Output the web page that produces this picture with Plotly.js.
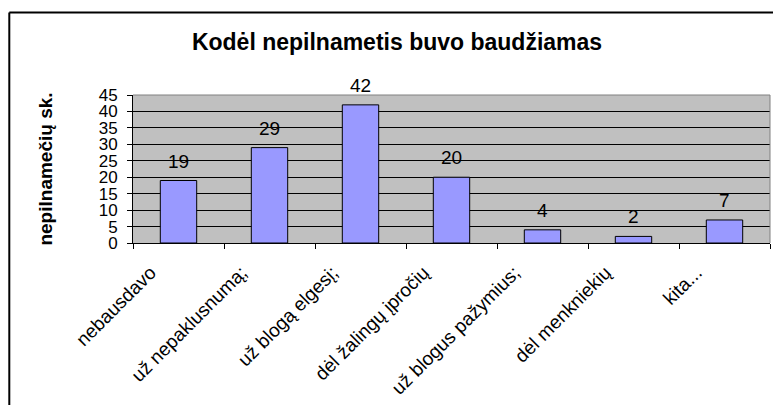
<!DOCTYPE html>
<html>
<head>
<meta charset="utf-8">
<script src="https://cdn.plot.ly/plotly-3.0.1.min.js"></script>
<style>
html,body{margin:0;padding:0;background:#fff;}
#chart{width:773px;height:405px;}
</style>
</head>
<body>
<div id="chart"></div>
<script>
const chartTitle = "Kodėl nepilnametis buvo baudžiamas";
const yTitle = "nepilnamečių sk.";
const categories = ["nebausdavo", "už nepaklusnumą;", "už blogą elgesį;", "dėl žalingų įpročių", "už blogus pažymius;", "dėl menkniekių", "kita..."];
const values = [19, 29, 42, 20, 4, 2, 7];
const yTickVals = [0, 5, 10, 15, 20, 25, 30, 35, 40, 45];

const FONT = "Liberation Sans, Arial, sans-serif";

const W = 773, H = 405;
const L = 133, R = 3, T = 95, B = 162;
const pw = W - L - R, ph = H - T - B;
const px = v => (v - L) / pw;
const py = v => (H - B - v) / ph;

const trace = {
  type: "bar",
  x: categories,
  y: values,
  marker: {color: "#9999FF", line: {color: "#000000", width: 1}},
  hoverinfo: "x+y"
};

const annotations = categories.map((c, i) => ({
  x: c, y: values[i], xref: "x", yref: "y",
  text: String(values[i]), showarrow: false,
  yanchor: "bottom", yshift: 7,
  font: {family: FONT, size: 19, color: "#000"}
}));

const layout = {
  width: W, height: H,
  margin: {l: L, r: R, t: T, b: B, pad: 0},
  paper_bgcolor: "#ffffff",
  plot_bgcolor: "#C0C0C0",
  showlegend: false,
  bargap: 0.6,
  title: {
    text: "<b>" + chartTitle + "</b>",
    font: {family: FONT, size: 23, color: "#000"},
    x: 397 / W, xanchor: "center", xref: "container",
    y: 1 - 42 / H, yanchor: "middle", yref: "container"
  },
  xaxis: {
    type: "category",
    showline: true, linecolor: "#000", linewidth: 1,
    ticks: "outside", tickson: "boundaries", ticklen: 5, tickcolor: "#000",
    tickangle: -45,
    ticklabelshift: -28, ticklabelstandoff: 10,
    tickfont: {family: FONT, size: 19, color: "#000"},
    showgrid: false, zeroline: false, fixedrange: true
  },
  yaxis: {
    range: [0, 45],
    tickvals: yTickVals,
    ticktext: yTickVals.map(String),
    showline: true, linecolor: "#000", linewidth: 1,
    ticks: "outside", ticklen: 5, tickcolor: "#000",
    ticklabelstandoff: 6,
    tickfont: {family: FONT, size: 17, color: "#000"},
    showgrid: true, gridcolor: "#000", gridwidth: 1,
    zeroline: false, fixedrange: true,
    title: {
      text: "<b>" + yTitle + "</b>",
      font: {family: FONT, size: 19, color: "#000"},
      standoff: 41
    }
  },
  annotations: annotations,
  shapes: [
    {type: "line", xref: "paper", yref: "paper", x0: 0, x1: 1, y0: 1, y1: 1,
     line: {color: "#808080", width: 1}, layer: "above"},
    {type: "line", xref: "paper", yref: "paper", x0: 1, x1: 1, y0: 0, y1: 1,
     line: {color: "#808080", width: 1}, layer: "above"},
    {type: "line", xref: "paper", yref: "paper", x0: px(9.3), x1: px(790), y0: py(12.5), y1: py(12.5),
     line: {color: "#000", width: 2}},
    {type: "line", xref: "paper", yref: "paper", x0: px(9.3), x1: px(9.3), y0: py(12.5), y1: py(420),
     line: {color: "#000", width: 2}}
  ]
};

Plotly.newPlot("chart", [trace], layout, {displayModeBar: false, staticPlot: true});
</script>
</body>
</html>
